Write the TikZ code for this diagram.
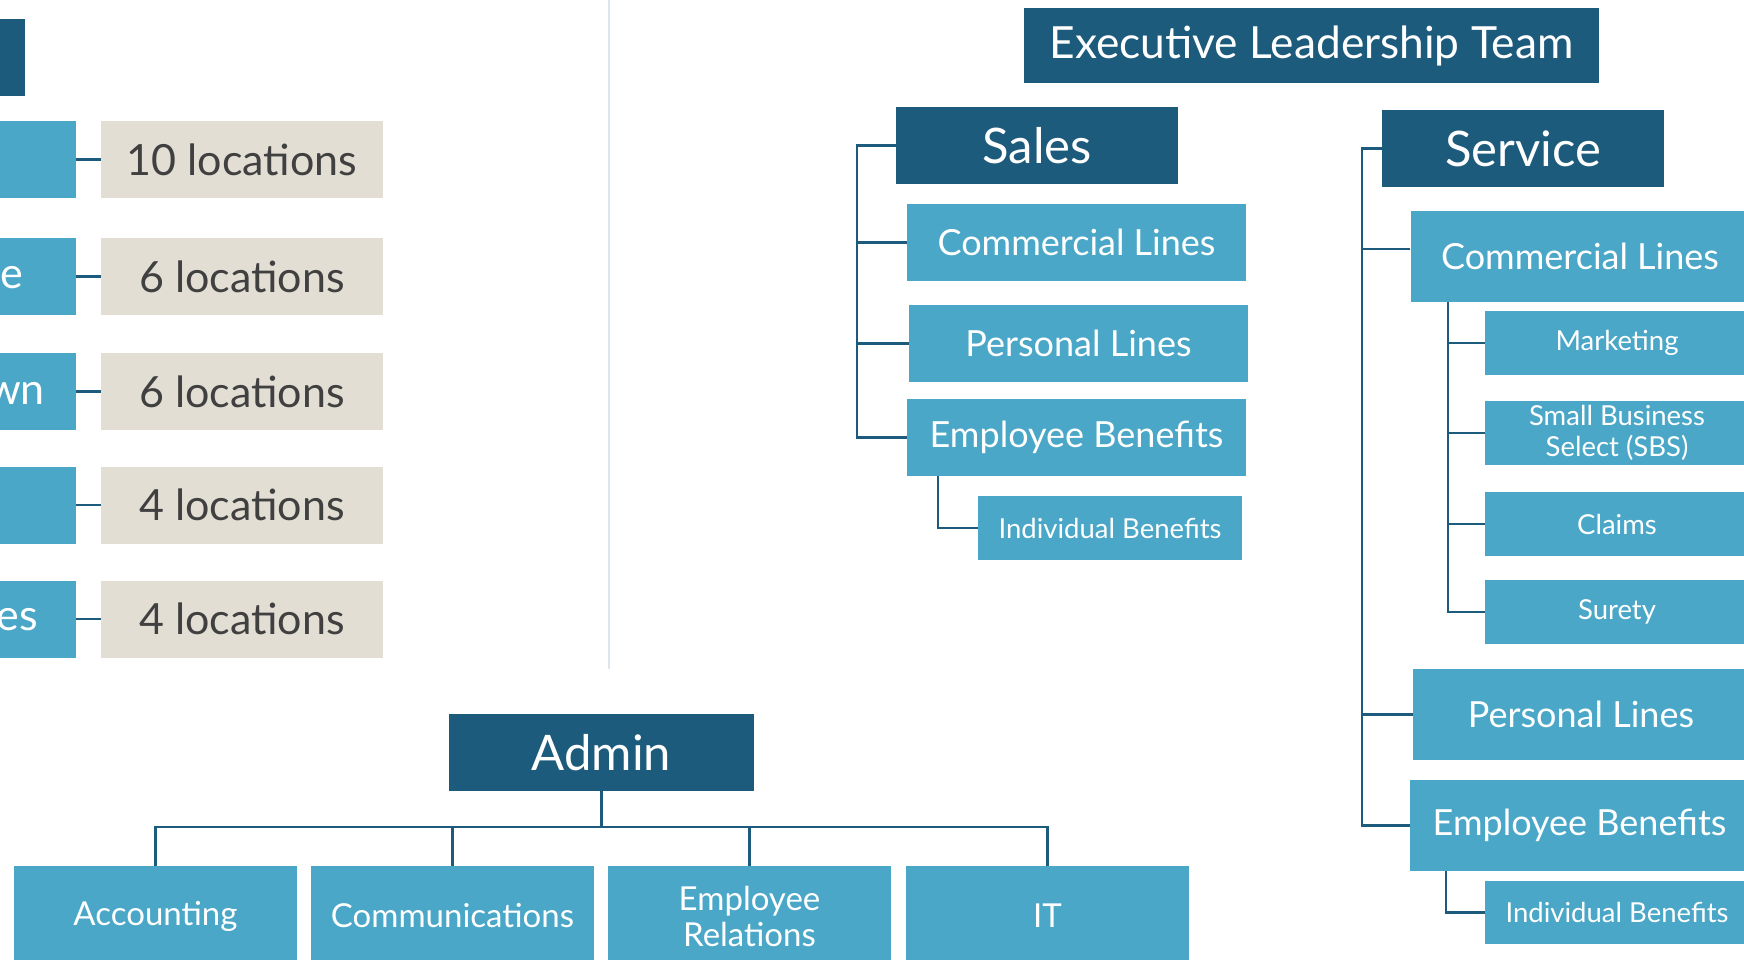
\documentclass[tikz,border=0pt]{standalone}
\usepackage{fontspec}
\setmainfont{Lato}
\usetikzlibrary{positioning}
\definecolor{deepblue}{HTML}{1D5B7C}
\definecolor{skyblue}{HTML}{4AA7C7}
\definecolor{sand}{HTML}{E2DED4}
\definecolor{ink}{HTML}{404040}
\definecolor{divider}{HTML}{DDE6EA}
\tikzset{
    x=1pt,
    y=-1pt,
    head/.style = {
        fill=deepblue,
        text=white,
        shape=rectangle,
        inner sep=0pt,
        minimum height=77pt,
        minimum width=282pt,
        font=\fontsize{49}{56}\selectfont
    },
    unit/.style = {
        fill=skyblue,
        text=white,
        shape=rectangle,
        inner sep=0pt,
        minimum height=77pt,
        minimum width=339pt,
        font=\fontsize{36}{42}\selectfont
    },
    sub/.style = {
        fill=skyblue,
        text=white,
        shape=rectangle,
        inner sep=0pt,
        align=center,
        minimum height=64pt,
        minimum width=264pt,
        font=\fontsize{27.5}{31}\selectfont
    },
    dept/.style = {
        fill=skyblue,
        text=white,
        shape=rectangle,
        inner sep=0pt,
        align=center,
        minimum height=100pt,
        minimum width=283pt,
        font=\fontsize{33}{36}\selectfont
    },
    city/.style = {
        fill=skyblue,
        shape=rectangle,
        inner sep=0pt,
        minimum height=77pt,
        minimum width=282pt
    },
    cityname/.style = {
        text=white,
        inner sep=0pt,
        font=\fontsize{43}{48}\selectfont
    },
    count/.style = {
        fill=sand,
        text=ink,
        shape=rectangle,
        inner sep=0pt,
        minimum height=77pt,
        minimum width=282pt,
        font=\fontsize{43}{48}\selectfont
    },
    link/.style = {
        draw=deepblue,
        line width=2.5pt
    },
}

\begin{document}
\begin{tikzpicture}
                \useasboundingbox (0,0) rectangle (1744,960);
                \clip (0,0) rectangle (1744,960);
                \fill[white] (0,0) rectangle (1744,960);

                % left: offices and their counts
                \node[head] (region) at (-116,57.5) {};
                \node[city] (city1) at (-65,159.5) {};
                \node[city] (city2) at (-65,276.5) {};
                \node[city] (city3) at (-65,391.5) {};
                \node[city] (city4) at (-65,505) {};
                \node[city] (city5) at (-65,619) {};
                \node[cityname, anchor=east] (name2) at (23,278) {e};
                \node[cityname, anchor=east] (name3) at (45,393) {wn};
                \node[cityname, anchor=east] (name5) at (38,620) {es};
                \node[count] (count1) at (242,159.5) {10 locations};
                \node[count] (count2) at (242,276.5) {6 locations};
                \node[count] (count3) at (242,391.5) {6 locations};
                \node[count] (count4) at (242,505) {4 locations};
                \node[count] (count5) at (242,619) {4 locations};

                \path[link] (city1) -- (count1);
                \path[link] (city2) -- (count2);
                \path[link] (city3) -- (count3);
                \path[link] (city4) -- (count4);
                \path[link] (city5) -- (count5);

                \path[draw=divider, line width=2pt] (609,0) -- (609,669);

                % top
                \node[head, minimum width=575pt, minimum height=75pt, font=\fontsize{44.3}{52}\selectfont] (exec) at (1311.5,45.5) {Executive Leadership Team};

                % sales
                \node[head] (sales) at (1037,145.5) {Sales};
                \node[unit] (scl) at (1076.5,242.5) {Commercial Lines};
                \node[unit] (spl) at (1078.5,343.5) {Personal Lines};
                \node[unit] (seb) at (1076.5,437.5) {Employee Benefits};
                \node[sub] (sib) at (1110,528) {Individual Benefits};
                \coordinate (sbus) at (857,437.5);
                \coordinate (sebbus) at (938,476);

                \path[link] (sales.west) -| (sbus) -- (seb.west);
                \path[link] (scl.west) -- (scl.west -| sbus);
                \path[link] (spl.west) -- (spl.west -| sbus);
                \path[link] (sebbus) |- (sib.west);

                % service
                \node[head] (service) at (1523,148.5) {Service};
                \node[unit, minimum height=91pt] (vcl) at (1580,256.5) {Commercial Lines};
                \node[sub] (vmk) at (1617,343) {Marketing};
                \node[sub] (vsbs) at (1617,433) {Small Business\\Select (SBS)};
                \node[sub] (vcla) at (1617,524) {Claims};
                \node[sub] (vsur) at (1617,612) {Surety};
                \node[unit, minimum height=91pt, minimum width=336pt] (vpl) at (1581,714.5) {Personal Lines};
                \node[unit, minimum height=91pt] (veb) at (1579.5,825.5) {Employee Benefits};
                \node[sub, minimum height=63pt] (vib) at (1617,912.5) {Individual Benefits};
                \coordinate (vbus) at (1362,825.5);
                \coordinate (vclbus) at (1448,302);
                \coordinate (vebbus) at (1446,871);

                \path[link] (service.west) -| (vbus) -- (veb.west);
                \path[link] ([yshift=7.5pt]vcl.west) -- ([yshift=7.5pt]vcl.west -| vbus);
                \path[link] (vpl.west) -- (vpl.west -| vbus);
                \path[link] (vclbus) |- (vsur.west);
                \path[link] (vmk.west) -- (vmk.west -| vclbus);
                \path[link] (vsbs.west) -- (vsbs.west -| vclbus);
                \path[link] (vcla.west) -- (vcla.west -| vclbus);
                \path[link] (vebbus) |- (vib.west);

                % admin
                \node[head, minimum width=305pt] (admin) at (601.5,752.5) {Admin};
                \node[dept] (acc) at (155.5,916) {Accounting};
                \node[dept] (com) at (452.5,916) {Communications};
                \node[dept] (emr) at (749.5,916) {Employee\\Relations};
                \node[dept] (it) at (1047.5,916) {IT};
                \coordinate (abus) at (601.5,827);

                \path[link] (admin.south) -- (abus);
                \path[link] (acc.north) |- (abus) -| (it.north);
                \path[link] (com.north) -- (com.north |- abus);
                \path[link] (emr.north) -- (emr.north |- abus);
            \end{tikzpicture}
\end{document}
